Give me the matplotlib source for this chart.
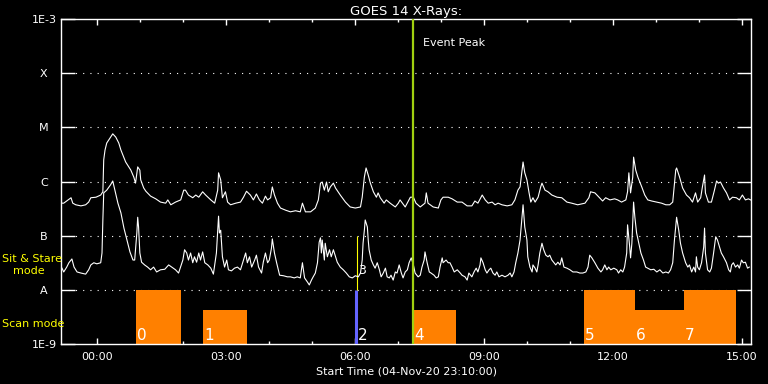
import numpy as np
import matplotlib
matplotlib.use('Agg')
import matplotlib.pyplot as plt
from matplotlib.transforms import blended_transform_factory

# ---------------- data (time in hours after 05-Nov-20 00:00 UT, log10 flux W/m^2) ----
long_time = [-0.81, -0.77, -0.67, -0.60, -0.56, -0.49, -0.37, -0.26, -0.19, -0.14, -0.02, 0.09,
             0.14, 0.16, 0.19, 0.23, 0.28, 0.32, 0.37, 0.44, 0.51, 0.56, 0.67, 0.79, 0.86, 0.90,
             0.95, 1.00, 1.02, 1.09, 1.14, 1.25, 1.37, 1.48, 1.60, 1.65, 1.72, 1.83, 1.95, 2.02,
             2.06, 2.13, 2.23, 2.30, 2.37, 2.46, 2.53, 2.65, 2.74, 2.81, 2.83, 2.88, 2.92, 2.99,
             3.04, 3.11, 3.23, 3.34, 3.41, 3.48, 3.57, 3.64, 3.71, 3.78, 3.85, 3.92, 3.97, 4.04,
             4.08, 4.13, 4.20, 4.27, 4.39, 4.50, 4.62, 4.73, 4.78, 4.85, 4.97, 5.08, 5.15, 5.20,
             5.24, 5.29, 5.34, 5.38, 5.43, 5.50, 5.55, 5.66, 5.78, 5.89, 6.01, 6.13, 6.17, 6.22,
             6.26, 6.31, 6.36, 6.43, 6.50, 6.54, 6.59, 6.68, 6.73, 6.82, 6.94, 7.01, 7.05, 7.17,
             7.29, 7.36, 7.42, 7.52, 7.63, 7.66, 7.70, 7.82, 7.94, 8.00, 8.05, 8.17, 8.26, 8.38,
             8.49, 8.61, 8.72, 8.79, 8.86, 8.96, 9.03, 9.10, 9.19, 9.26, 9.33, 9.42, 9.54, 9.65,
             9.72, 9.79, 9.84, 9.88, 9.91, 9.95, 10.00, 10.05, 10.09, 10.14, 10.19, 10.26, 10.32,
             10.35, 10.42, 10.49, 10.58, 10.70, 10.81, 10.93, 11.04, 11.18, 11.35, 11.44, 11.48,
             11.58, 11.69, 11.76, 11.83, 11.93, 12.04, 12.11, 12.20, 12.30, 12.34, 12.37, 12.41,
             12.46, 12.48, 12.53, 12.58, 12.67, 12.74, 12.81, 12.90, 13.02, 13.13, 13.23, 13.32,
             13.39, 13.46, 13.48, 13.55, 13.62, 13.71, 13.78, 13.85, 13.92, 13.97, 14.04, 14.08,
             14.13, 14.15, 14.22, 14.29, 14.36, 14.41, 14.45, 14.50, 14.57, 14.64, 14.71, 14.78,
             14.87, 14.94, 15.01, 15.08, 15.15, 15.20]
long_logflux = [-6.40, -6.40, -6.34, -6.30, -6.40, -6.43, -6.45, -6.43, -6.38, -6.30, -6.29, -6.25,
                -6.19, -5.60, -5.42, -5.29, -5.23, -5.18, -5.12, -5.18, -5.29, -5.42, -5.64, -5.79,
                -5.92, -6.03, -5.73, -5.79, -5.97, -6.12, -6.18, -6.27, -6.32, -6.38, -6.40, -6.34,
                -6.43, -6.38, -6.34, -6.16, -6.16, -6.25, -6.30, -6.25, -6.29, -6.19, -6.25, -6.34,
                -6.40, -6.16, -5.84, -5.97, -6.30, -6.19, -6.38, -6.43, -6.40, -6.38, -6.29, -6.18,
                -6.25, -6.34, -6.23, -6.34, -6.40, -6.27, -6.34, -6.30, -6.10, -6.25, -6.40, -6.49,
                -6.53, -6.56, -6.54, -6.56, -6.40, -6.56, -6.56, -6.49, -6.34, -6.03, -6.01, -6.16,
                -6.01, -6.19, -6.10, -6.03, -6.12, -6.25, -6.38, -6.47, -6.49, -6.47, -6.29, -5.92,
                -5.75, -5.88, -6.03, -6.19, -6.29, -6.21, -6.30, -6.40, -6.34, -6.40, -6.47, -6.40,
                -6.34, -6.47, -6.29, -6.29, -6.40, -6.47, -6.40, -6.21, -6.40, -6.47, -6.49, -6.34,
                -6.29, -6.29, -6.32, -6.38, -6.38, -6.45, -6.45, -6.36, -6.40, -6.25, -6.34, -6.40,
                -6.38, -6.43, -6.40, -6.43, -6.45, -6.43, -6.34, -6.16, -6.10, -5.84, -5.64, -5.84,
                -5.97, -6.21, -6.38, -6.30, -6.38, -6.29, -6.10, -6.03, -6.16, -6.19, -6.25, -6.29,
                -6.30, -6.38, -6.40, -6.43, -6.40, -6.30, -6.19, -6.21, -6.30, -6.36, -6.30, -6.34,
                -6.32, -6.34, -6.38, -6.34, -6.19, -5.84, -6.21, -5.92, -5.55, -5.79, -5.92, -6.10,
                -6.25, -6.34, -6.36, -6.38, -6.40, -6.43, -6.43, -6.38, -5.79, -5.75, -5.92, -6.12,
                -6.25, -6.30, -6.38, -6.21, -6.38, -6.30, -6.10, -5.88, -6.21, -6.38, -6.38, -6.16,
                -5.99, -6.03, -6.01, -6.12, -6.21, -6.34, -6.29, -6.30, -6.34, -6.25, -6.34, -6.32,
                -6.34]

short_time = [-0.81, -0.77, -0.70, -0.65, -0.58, -0.53, -0.46, -0.37, -0.26, -0.19, -0.14, -0.07,
              0.00, 0.09, 0.12, 0.14, 0.16, 0.23, 0.32, 0.37, 0.42, 0.49, 0.56, 0.63, 0.70, 0.77,
              0.84, 0.88, 0.93, 0.95, 0.97, 1.00, 1.04, 1.11, 1.18, 1.25, 1.32, 1.39, 1.48, 1.58,
              1.67, 1.74, 1.83, 1.90, 2.00, 2.04, 2.09, 2.13, 2.18, 2.23, 2.27, 2.32, 2.37, 2.41,
              2.46, 2.51, 2.58, 2.65, 2.71, 2.78, 2.83, 2.85, 2.88, 2.92, 2.97, 3.02, 3.06, 3.13,
              3.20, 3.27, 3.34, 3.41, 3.46, 3.50, 3.55, 3.60, 3.67, 3.71, 3.76, 3.83, 3.87, 3.92,
              3.97, 4.01, 4.06, 4.08, 4.13, 4.18, 4.25, 4.34, 4.43, 4.50, 4.59, 4.66, 4.73, 4.78,
              4.83, 4.90, 4.94, 4.99, 5.03, 5.08, 5.13, 5.15, 5.17, 5.20, 5.22, 5.24, 5.29, 5.31,
              5.36, 5.41, 5.45, 5.50, 5.55, 5.59, 5.66, 5.73, 5.80, 5.87, 5.94, 6.01, 6.08, 6.13,
              6.17, 6.19, 6.22, 6.24, 6.29, 6.31, 6.33, 6.38, 6.43, 6.47, 6.52, 6.57, 6.61, 6.66,
              6.71, 6.75, 6.80, 6.84, 6.89, 6.94, 6.98, 7.03, 7.08, 7.12, 7.17, 7.22, 7.26, 7.31,
              7.36, 7.40, 7.47, 7.52, 7.56, 7.61, 7.63, 7.68, 7.73, 7.77, 7.84, 7.89, 7.94, 7.98,
              8.03, 8.05, 8.12, 8.17, 8.21, 8.26, 8.31, 8.38, 8.45, 8.49, 8.56, 8.61, 8.65, 8.72,
              8.77, 8.82, 8.86, 8.91, 8.93, 8.98, 9.03, 9.07, 9.12, 9.16, 9.21, 9.26, 9.30, 9.35,
              9.42, 9.49, 9.56, 9.61, 9.65, 9.70, 9.74, 9.79, 9.84, 9.88, 9.91, 9.95, 10.00, 10.02,
              10.07, 10.12, 10.14, 10.19, 10.23, 10.26, 10.30, 10.35, 10.39, 10.44, 10.49, 10.53,
              10.58, 10.63, 10.67, 10.72, 10.77, 10.81, 10.86, 10.93, 11.00, 11.07, 11.16, 11.23,
              11.30, 11.37, 11.42, 11.46, 11.51, 11.58, 11.65, 11.72, 11.76, 11.81, 11.86, 11.90,
              11.95, 12.02, 12.09, 12.13, 12.18, 12.23, 12.27, 12.32, 12.34, 12.39, 12.41, 12.44,
              12.48, 12.51, 12.55, 12.60, 12.65, 12.71, 12.76, 12.81, 12.88, 12.95, 13.02, 13.09,
              13.16, 13.23, 13.29, 13.34, 13.39, 13.43, 13.48, 13.53, 13.57, 13.62, 13.69, 13.74,
              13.78, 13.83, 13.88, 13.92, 13.94, 13.97, 14.01, 14.06, 14.11, 14.13, 14.15, 14.20,
              14.25, 14.29, 14.34, 14.39, 14.43, 14.48, 14.52, 14.57, 14.64, 14.69, 14.73, 14.76,
              14.80, 14.85, 14.90, 14.94, 14.99, 15.03, 15.08, 15.13, 15.17]
short_logflux = [-7.60, -7.67, -7.58, -7.50, -7.43, -7.58, -7.67, -7.69, -7.71, -7.63, -7.54, -7.50,
                 -7.52, -7.50, -7.32, -6.71, -6.21, -6.16, -6.06, -5.99, -6.16, -6.40, -6.58, -6.86,
                 -7.08, -7.30, -7.45, -7.45, -6.95, -6.66, -6.84, -7.32, -7.49, -7.54, -7.58, -7.63,
                 -7.58, -7.67, -7.63, -7.62, -7.54, -7.58, -7.63, -7.69, -7.45, -7.26, -7.32, -7.45,
                 -7.32, -7.50, -7.39, -7.49, -7.32, -7.45, -7.30, -7.50, -7.54, -7.60, -7.71, -7.32,
                 -6.64, -6.95, -6.90, -7.39, -7.58, -7.45, -7.63, -7.65, -7.60, -7.58, -7.63, -7.45,
                 -7.32, -7.50, -7.39, -7.58, -7.45, -7.36, -7.58, -7.69, -7.49, -7.32, -7.50, -7.45,
                 -7.23, -7.06, -7.32, -7.50, -7.73, -7.74, -7.76, -7.76, -7.78, -7.76, -7.78, -7.50,
                 -7.78, -7.86, -7.91, -7.82, -7.76, -7.69, -7.50, -7.32, -7.12, -7.04, -7.32, -7.08,
                 -7.45, -7.14, -7.39, -7.26, -7.39, -7.26, -7.39, -7.49, -7.58, -7.63, -7.69, -7.76,
                 -7.78, -7.74, -7.76, -7.69, -7.45, -7.14, -6.90, -6.71, -6.84, -7.08, -7.26, -7.45,
                 -7.54, -7.60, -7.50, -7.63, -7.76, -7.69, -7.60, -7.76, -7.78, -7.73, -7.82, -7.67,
                 -7.69, -7.54, -7.69, -7.78, -7.67, -7.63, -7.50, -7.41, -7.54, -7.69, -7.76, -7.73,
                 -7.58, -7.45, -7.30, -7.50, -7.67, -7.69, -7.73, -7.78, -7.76, -7.58, -7.41, -7.50,
                 -7.45, -7.50, -7.50, -7.58, -7.67, -7.63, -7.69, -7.73, -7.76, -7.82, -7.69, -7.76,
                 -7.67, -7.60, -7.67, -7.54, -7.41, -7.50, -7.63, -7.69, -7.63, -7.60, -7.69, -7.73,
                 -7.67, -7.76, -7.73, -7.76, -7.73, -7.69, -7.76, -7.67, -7.50, -7.32, -7.08, -6.71,
                 -6.43, -6.84, -7.08, -7.39, -7.58, -7.67, -7.54, -7.60, -7.67, -7.54, -7.32, -7.14,
                 -7.26, -7.36, -7.39, -7.36, -7.45, -7.50, -7.54, -7.49, -7.54, -7.41, -7.58, -7.60,
                 -7.63, -7.67, -7.67, -7.69, -7.69, -7.67, -7.58, -7.36, -7.41, -7.50, -7.60, -7.67,
                 -7.63, -7.54, -7.63, -7.58, -7.63, -7.60, -7.63, -7.69, -7.63, -7.67, -7.58, -7.32,
                 -6.80, -7.21, -7.41, -7.14, -6.38, -6.66, -6.95, -7.14, -7.32, -7.45, -7.58, -7.60,
                 -7.63, -7.62, -7.67, -7.63, -7.69, -7.67, -7.69, -7.63, -7.50, -7.08, -6.66, -6.90,
                 -7.14, -7.32, -7.50, -7.58, -7.54, -7.67, -7.58, -7.67, -7.39, -7.58, -7.63, -7.50,
                 -7.21, -6.86, -7.32, -7.63, -7.67, -7.60, -7.32, -7.02, -7.08, -7.21, -7.32, -7.39,
                 -7.50, -7.63, -7.67, -7.54, -7.50, -7.58, -7.54, -7.60, -7.45, -7.50, -7.49, -7.60,
                 -7.58]

ytick_values = [1e-9, 1e-8, 1e-7, 1e-6, 1e-5, 1e-4, 1e-3]
ytick_labels = ['1E-9', 'A', 'B', 'C', 'M', 'X', '1E-3']
grid_levels = [1e-8, 1e-7, 1e-6, 1e-5, 1e-4]
xtick_hours = [0, 3, 6, 9, 12, 15]
xtick_labels = ['00:00', '03:00', '06:00', '09:00', '12:00', '15:00']
minor_hours = list(range(0, 16))

# scan-mode blocks (observing segments)
mode_ids = ['0', '1', '4', '5', '6', '7']
mode_start = [0.905, 2.459, 7.355, 11.32, 12.51, 13.65]
mode_end = [1.949, 3.503, 8.353, 12.51, 13.65, 14.85]
mode_top = [1e-8, 4.2e-9, 4.2e-9, 1e-8, 4.2e-9, 1e-8]

stare2_time = 6.03      # sit & stare segment 2 (blue)
event3_time = 6.06      # segment 3 marker (yellow)
event_peak_time = 7.355

x_start, x_end = -0.8333, 15.21

# ---------------- figure ----------------
W, H = 768, 384
fig = plt.figure(figsize=(W / 100, H / 100), dpi=100, facecolor='black')
L, R, T, B = 61, 751, 19, 344
ax = fig.add_axes([L / W, 1 - B / H, (R - L) / W, (B - T) / H], facecolor='black')
ax.set_yscale('log')
ax.set_xlim(x_start, x_end)
ax.set_ylim(1e-9, 1e-3)

fs = 8
# grid lines
for g in grid_levels:
    ax.axhline(g, color='white', lw=0.8, ls=(0, (1, 5.5)), zorder=1)

# mode blocks
ax.bar(mode_start, [t - 1e-9 for t in mode_top], bottom=1e-9,
       width=[e - s for s, e in zip(mode_start, mode_end)], align='edge',
       color='#ff8000', edgecolor='none', zorder=2)
trans = blended_transform_factory(ax.transData, ax.transAxes)
for s, lab in zip(mode_start, mode_ids):
    ax.text(s + 0.03, 0.012, lab, color='white', fontsize=11, transform=trans,
            ha='left', va='baseline', zorder=5)

# segment 2 and 3 markers
ax.vlines(stare2_time, 1e-9, 1e-8, color='#6464ff', lw=2.2, zorder=3)
ax.text(stare2_time + 0.04, 0.012, '2', color='white', fontsize=11, transform=trans,
        ha='left', va='baseline', zorder=5)
ax.vlines(event3_time, 1e-8, 1e-7, color='yellow', lw=0.8, zorder=3)
ax.text(event3_time + 0.02, 10 ** -7.65, '3', color='white', fontsize=9,
        ha='left', va='center', zorder=5)

# curves
ax.plot(long_time, [10 ** v for v in long_logflux], color='white', lw=0.8, zorder=4)
ax.plot(short_time, [10 ** v for v in short_logflux], color='white', lw=0.8, zorder=4)

# event peak
ax.axvline(event_peak_time, color='#a0d010', lw=1.6, zorder=4)
ax.text(7.59, 0.926, 'Event Peak', color='white', fontsize=fs, transform=trans,
        ha='left', va='center')

# axes styling
for sp in ax.spines.values():
    sp.set_color('white')
    sp.set_linewidth(1.0)
ax.set_yticks(ytick_values)
ax.set_yticklabels(ytick_labels)
ax.yaxis.set_minor_locator(matplotlib.ticker.NullLocator())
ax.tick_params(axis='y', which='major', direction='in', length=10, width=1,
               colors='white', labelsize=fs, left=True, right=True, pad=12.3)
for lab in ax.get_yticklabels():
    lab.set_horizontalalignment('center')
ax.set_xticks(xtick_hours)
ax.set_xticklabels(xtick_labels)
ax.set_xticks(minor_hours, minor=True)
ax.tick_params(axis='x', which='major', direction='in', length=4.5, width=1,
               colors='white', labelsize=fs, top=True, bottom=True, pad=6)
ax.tick_params(axis='x', which='minor', direction='in', length=2.2, width=1,
               colors='white', top=True, bottom=True)

ax.set_title('GOES 14 X-Rays:', color='white', fontsize=9.5, pad=3)
ax.set_xlabel('Start Time (04-Nov-20 23:10:00)', color='white', fontsize=fs, labelpad=3)

# mode labels at left
fig.text(2 / W, 1 - 259 / H, 'Sit & Stare', color='yellow', fontsize=fs, ha='left', va='center')
fig.text(13 / W, 1 - 271 / H, 'mode', color='yellow', fontsize=fs, ha='left', va='center')
fig.text(2 / W, 1 - 324 / H, 'Scan mode', color='yellow', fontsize=fs, ha='left', va='center')

fig.savefig('out.png', dpi=100, facecolor='black')
